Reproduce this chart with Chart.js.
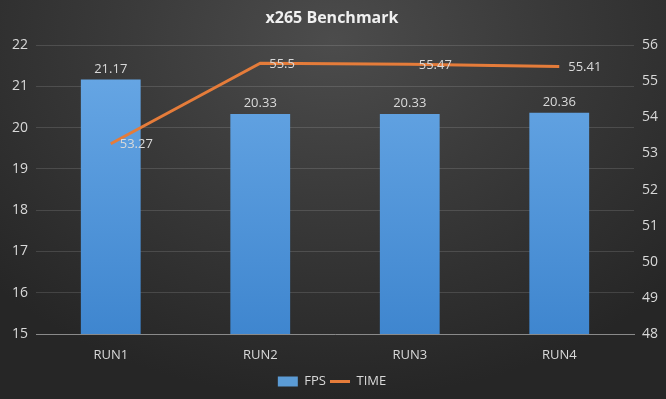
<!DOCTYPE html>
<html><head><meta charset="utf-8">
<script src="https://cdn.jsdelivr.net/npm/chart.js@4/dist/chart.umd.min.js"></script>
<style>
html,body{margin:0;padding:0;}
body{width:666px;height:399px;background:radial-gradient(ellipse 70% 90% at 50% 10%, #4c4c4c 0%, #3a3a3a 45%, #262626 100%);overflow:hidden;}
#wrap{position:relative;width:666px;height:399px;}
</style></head>
<body><div id="wrap"><canvas id="c" width="666" height="399"></canvas></div>
<script>
const categories = ["RUN1","RUN2","RUN3","RUN4"];
const fpsValues = [21.17, 20.33, 20.33, 20.36];
const timeValues = [53.27, 55.5, 55.47, 55.41];
const fpsLabels = ["21.17","20.33","20.33","20.36"];
const timeLabels = ["53.27","55.5","55.47","55.41"];

const txt = '#d9d9d9';
const fontFam = '"Open Sans", "Noto Sans", sans-serif';

const labelPlugin = {
  id: 'vlabels',
  afterDatasetsDraw(chart) {
    const ctx = chart.ctx;
    ctx.save();
    ctx.font = '13px ' + fontFam;
    ctx.fillStyle = txt;
    const barMeta = chart.getDatasetMeta(0);
    barMeta.data.forEach((el, i) => {
      ctx.textAlign = 'center'; ctx.textBaseline = 'bottom';
      ctx.fillText(fpsLabels[i], el.x, el.y - 4);
    });
    const lineMeta = chart.getDatasetMeta(1);
    lineMeta.data.forEach((el, i) => {
      ctx.textAlign = 'left'; ctx.textBaseline = 'middle';
      ctx.fillText(timeLabels[i], el.x + 9, el.y + 1);
    });
    ctx.restore();
  }
};

new Chart(document.getElementById('c'), {
  type: 'bar',
  data: {
    labels: categories,
    datasets: [
      {
        label: 'FPS', data: fpsValues, yAxisID: 'y',
        backgroundColor(c) {
          const a = c.chart.chartArea;
          if (!a) return '#5b9bd5';
          const g = c.chart.ctx.createLinearGradient(0, a.top, 0, a.bottom);
          g.addColorStop(0, '#6aa9e6');
          g.addColorStop(1, '#3f86cf');
          return g;
        },
        barPercentage: 0.4, categoryPercentage: 1.0, order: 2
      },
      {
        type: 'line', label: 'TIME', data: timeValues, yAxisID: 'y1',
        borderColor: '#e57c3a', backgroundColor: '#e57c3a', borderWidth: 3,
        pointRadius: 0, tension: 0, order: 1
      }
    ]
  },
  options: {
    responsive: false, animation: false,
    layout: { padding: { left: 4, right: 6, top: 0, bottom: 1 } },
    plugins: {
      title: { display: true, text: 'x265 Benchmark', color: '#f0f0f0',
        font: { family: fontFam, size: 16, weight: 'bold' }, padding: { top: 9, bottom: 17 } },
      legend: { position: 'bottom', labels: {
        color: txt, font: { family: fontFam, size: 13 }, usePointStyle: true,
        pointStyleWidth: 20, boxHeight: 10, padding: 4,
        generateLabels(chart) {
          return [
            { text: 'FPS', fillStyle: '#5b9bd5', strokeStyle: '#5b9bd5', lineWidth: 0, pointStyle: 'rect', fontColor: txt, datasetIndex: 0 },
            { text: 'TIME', fillStyle: '#e57c3a', strokeStyle: '#e57c3a', lineWidth: 3, pointStyle: 'line', fontColor: txt, datasetIndex: 1 }
          ];
        }
      } },
      tooltip: { enabled: false }
    },
    scales: {
      x: {
        grid: { display: false, drawTicks: false },
        border: { color: '#8a8a8a', width: 1 },
        ticks: { color: txt, font: { family: fontFam, size: 13 }, padding: 13 },
        afterFit(s) { s.height = 37; }
      },
      y: {
        position: 'left', min: 15, max: 22,
        ticks: { stepSize: 1, color: txt, font: { family: fontFam, size: 14 }, padding: 8 },
        grid: { color: 'rgba(255,255,255,0.13)', drawTicks: false },
        border: { display: false },
        afterFit(s) { s.width = 32; }
      },
      y1: {
        position: 'right', min: 48, max: 56,
        ticks: { stepSize: 1, color: txt, font: { family: fontFam, size: 14 }, padding: 8 },
        grid: { display: false, drawTicks: false },
        border: { display: false },
        afterFit(s) { s.width = 26; }
      }
    }
  },
  plugins: [labelPlugin]
});
</script></body></html>
